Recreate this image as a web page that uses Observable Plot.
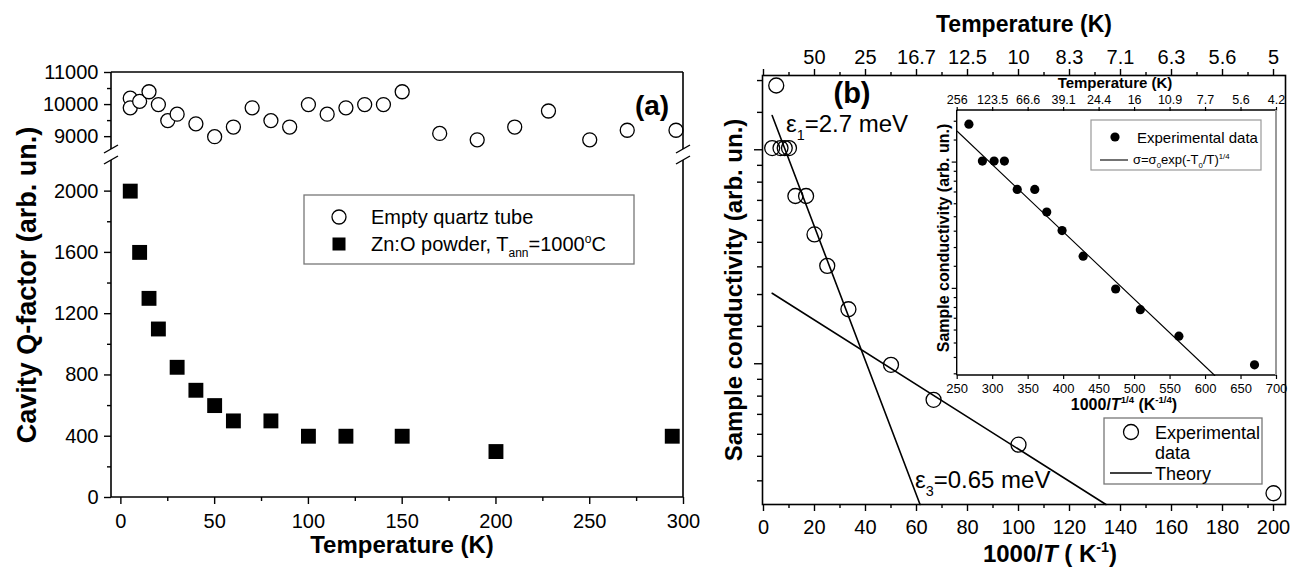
<!DOCTYPE html>
<html><head><meta charset="utf-8">
<script src="https://cdn.jsdelivr.net/npm/d3@7"></script>
<script src="https://cdn.jsdelivr.net/npm/@observablehq/plot@0.6"></script>
<style>
html,body{margin:0;padding:0;background:#fff;}
#wrap{position:relative;width:1290px;height:567px;overflow:hidden;background:#fff;}
#wrap svg{position:absolute;overflow:visible;}
</style></head><body><div id="wrap"></div>
<script>
// ---------- DATA ----------
// Panel (a)
const quartzT = [5, 5, 10, 15, 20, 25, 30, 40, 50, 60, 70, 80, 90, 100, 110, 120, 130, 140, 150, 170, 190, 210, 228, 250, 270, 296];
const quartzQ = [10200, 9900, 10100, 10400, 10000, 9500, 9700, 9400, 9000, 9300, 9900, 9500, 9300, 10000, 9700, 9900, 10000, 10000, 10400, 9100, 8900, 9300, 9800, 8900, 9200, 9200];
const znT = [5, 10, 15, 20, 30, 40, 50, 60, 80, 100, 120, 150, 200, 294];
const znQ = [2000, 1600, 1300, 1100, 850, 700, 600, 500, 500, 400, 400, 400, 300, 400];
const aXTicks = [0, 50, 100, 150, 200, 250, 300];
const aXMinor = [25, 75, 125, 175, 225, 275];
const aYTicks = [0, 400, 800, 1200, 1600, 2000, 9000, 10000, 11000];
const aYMinor = [200, 600, 1000, 1400, 1800, 9500, 10500];
const aYBreak = [2200, 8600];   // lower segment top, upper segment bottom
const aYTop = 11000;

// Panel (b) main: x = 1000/T, y = conductivity (arb. un., ln scale)
const bInvT  = [3.4, 5, 6.67, 8.33, 10, 12.5, 16.7, 20, 25, 33.3, 50, 66.7, 100, 200];
const bSigma = [2.74, 3.67, 2.74, 2.74, 2.74, 2.19, 2.19, 1.83, 1.58, 1.29, 0.995, 0.845, 0.685, 0.546];
const theory1X = [3.4, 61.4],  theory1S = [3.19, 0.518];
const theory2X = [3.4, 134.3], theory2S = [1.39, 0.518];
const bXTicks = [0, 20, 40, 60, 80, 100, 120, 140, 160, 180, 200];
const bXMinor = [10, 30, 50, 70, 90, 110, 130, 150, 170, 190];
const bTopTicks  = [0, 20, 40, 60, 80, 100, 120, 140, 160, 180, 200];
const bTopLabels = ["", "50", "25", "16.7", "12.5", "10", "8.3", "7.1", "6.3", "5.6", "5"];

// Inset: x = 1000/T^(1/4)
const iX     = [266.5, 285.5, 302, 316.5, 334.6, 359.3, 376.2, 397.8, 427.5, 473.3, 508.1, 562.4, 669];
const iSigma = [3.67, 2.74, 2.74, 2.74, 2.19, 2.19, 1.83, 1.58, 1.29, 0.995, 0.845, 0.685, 0.546];
const fitX = [250, 613], fitS = [3.47, 0.5016];
const iXTicks = [250, 300, 350, 400, 450, 500, 550, 600, 650, 700];
const iTopLabels = ["256", "123.5", "66.6", "39.1", "24.4", "16", "10.9", "7.7", "5.6", "4.2"];

// ---------- HELPERS ----------
const FONT = '"Liberation Sans", Arial, Helvetica, sans-serif';
const wrap = document.getElementById("wrap");
function place(svg, left, top) {
  svg.style.left = left + "px"; svg.style.top = top + "px";
  wrap.appendChild(svg);
}
function rich(g, x, y, parts, {size = 20, weight = "normal", anchor = "start", rotate = 0} = {}) {
  const t = g.append("text")
    .attr("font-size", size).attr("font-weight", weight)
    .attr("text-anchor", anchor).attr("fill", "#000").attr("stroke", "none")
    .attr("font-family", FONT);
  if (rotate) t.attr("transform", `translate(${x},${y}) rotate(${rotate})`);
  else t.attr("x", x).attr("y", y);
  let shift = 0;
  for (const p of parts) {
    const s = typeof p === "string" ? {t: p} : p;
    const ts = t.append("tspan").text(s.t);
    let target = 0, fs = size;
    if (s.sup) { target = -size * 0.42; fs = size * 0.6; }
    if (s.sub) { target = size * 0.32; fs = size * 0.6; }
    ts.attr("font-size", fs);
    if (target !== shift) { ts.attr("dy", target - shift); shift = target; }
    if (s.it) ts.attr("font-style", "italic");
  }
  return t;
}
function deco(left, top, draw) {
  return (index, scales, values, dims) => {
    const g = d3.create("svg:g").attr("transform", `translate(${-left},${-top})`);
    draw(g, scales, dims);
    return g.node();
  };
}
function line(g, x1, y1, x2, y2, stroke = "#000", w = 1.6) {
  g.append("line").attr("x1", x1).attr("y1", y1).attr("x2", x2).attr("y2", y2)
    .attr("stroke", stroke).attr("stroke-width", w);
}
function lnTicks(domain) {
  const major = [], minor = [];
  for (let n = -3; n <= 3; n++) {
    const a = Math.exp(n), b = Math.exp(n + 1);
    if (a >= domain[0] && a <= domain[1]) major.push(a);
    for (let i = 1; i <= 8; i++) {
      const v = a + i * (b - a) / 9;
      if (v >= domain[0] && v <= domain[1]) minor.push(v);
    }
  }
  return {major, minor};
}

// ---------- PANEL (a) : broken y axis ----------
// lower segment 0..2200 occupies 497..160 px, gap 11 px, upper 8600..11000 occupies 149..72 px
const GAP = 11 / 0.1532;            // gap expressed in lower-segment units
const UPK = 0.03208 / 0.1532;       // upper segment compression
const breakY = v => v <= aYBreak[0] ? v
  : v >= aYBreak[1] ? aYBreak[0] + GAP + (v - aYBreak[1]) * UPK
  : aYBreak[0] + GAP * (v - aYBreak[0]) / (aYBreak[1] - aYBreak[0]);

const quartz = quartzT.map((T, i) => ({T, Q: quartzQ[i]}));
const zn = znT.map((T, i) => ({T, Q: znQ[i]}));
const A = {left: 0, top: 0};
const plotA = Plot.plot({
  width: 700, height: 567,
  marginLeft: 111, marginRight: 17, marginTop: 72, marginBottom: 70,
  style: {background: "transparent", fontFamily: FONT, color: "#000", overflow: "visible"},
  x: {domain: [-5, 300]},
  y: {domain: [0, breakY(aYTop)], transform: breakY},
  marks: [
    Plot.axisX(aXTicks, {anchor: "bottom", tickSize: 7, tickPadding: 9, fontSize: 20, strokeWidth: 1.4, label: null, tickFormat: d => String(d)}),
    Plot.axisX(aXMinor, {anchor: "bottom", tickSize: 4, strokeWidth: 1.4, label: null, tickFormat: () => ""}),
    Plot.axisY(aYTicks, {anchor: "left", tickSize: 7, tickPadding: 6, fontSize: 20, strokeWidth: 1.4, label: null, tickFormat: d => String(d)}),
    Plot.axisY(aYMinor, {anchor: "left", tickSize: 4, strokeWidth: 1.4, label: null, tickFormat: () => ""}),
    Plot.dot(quartz, {x: "T", y: "Q", r: 7, fill: "#fff", stroke: "#000", strokeWidth: 1.3}),
    Plot.dot(zn, {x: "T", y: "Q", symbol: "square", r: 8.4, fill: "#000", stroke: "none"}),
    deco(A.left, A.top, (g, s, d) => {
      const x0 = d.marginLeft, x1 = d.width - d.marginRight;
      const yT = d.marginTop, yB = d.height - d.marginBottom;
      const py = v => {
        const a = s.y(breakY(v));
        return Number.isFinite(a) ? a : yB;
      };
      const ybU = py(aYBreak[1]), ybL = py(aYBreak[0]);
      line(g, x0, yT, x1, yT); line(g, x0, yB, x1, yB);
      for (const xe of [x0, x1]) {
        line(g, xe, yT, xe, ybU); line(g, xe, ybL, xe, yB);
        for (const yy of [ybU, ybL]) line(g, xe - 7, yy + 4, xe + 7, yy - 4, "#000", 1.4);
      }
      // legend
      g.append("rect").attr("x", 304).attr("y", 195).attr("width", 330).attr("height", 69)
        .attr("fill", "none").attr("stroke", "#777").attr("stroke-width", 1.3);
      g.append("circle").attr("cx", 339).attr("cy", 217).attr("r", 7).attr("fill", "#fff").attr("stroke", "#000").attr("stroke-width", 1.3);
      g.append("rect").attr("x", 332.5).attr("y", 237.5).attr("width", 13).attr("height", 13).attr("fill", "#000");
      rich(g, 371, 224, ["Empty quartz tube"], {size: 20});
      rich(g, 371, 251, ["Zn:O powder, T", {t: "ann", sub: true}, "=1000", {t: "o", sup: true}, "C"], {size: 20});
      rich(g, 652, 115, ["(a)"], {size: 28, weight: "bold", anchor: "middle"});
      rich(g, 402, 553, ["Temperature (K)"], {size: 24, weight: "bold", anchor: "middle"});
      rich(g, 36, 285, ["Cavity Q-factor (arb. un.)"], {size: 27, weight: "bold", anchor: "middle", rotate: -90});
    })
  ]
});
place(plotA, A.left, A.top);

// ---------- PANEL (b) ----------
const B = {left: 700, top: 0};
const bDomainY = [0.518, 3.846];
const bT = lnTicks(bDomainY);
const mainPts = bInvT.map((x, i) => ({x, s: bSigma[i]}));
const th1 = theory1X.map((x, i) => ({x, s: theory1S[i]}));
const th2 = theory2X.map((x, i) => ({x, s: theory2S[i]}));
const topMap = new Map(bTopTicks.map((d, i) => [d, bTopLabels[i]]));
const plotB = Plot.plot({
  width: 590, height: 567,
  marginLeft: 62, marginRight: 5, marginTop: 75, marginBottom: 63,
  style: {background: "transparent", fontFamily: FONT, color: "#000", overflow: "visible"},
  x: {domain: [-0.39, 204.7]},
  y: {type: "log", base: Math.E, domain: bDomainY},
  marks: [
    Plot.frame({stroke: "#000", strokeWidth: 1.6}),
    Plot.axisX(bXTicks, {anchor: "bottom", tickSize: 7, tickPadding: 8, fontSize: 20, strokeWidth: 1.4, label: null, tickFormat: d => String(d)}),
    Plot.axisX(bXMinor, {anchor: "bottom", tickSize: 4, strokeWidth: 1.4, label: null, tickFormat: () => ""}),
    Plot.axisX(bTopTicks, {anchor: "top", tickSize: 7, tickPadding: 5, fontSize: 20, strokeWidth: 1.4, label: null, tickFormat: d => topMap.get(d)}),
    Plot.axisX(bXMinor, {anchor: "top", tickSize: 4, strokeWidth: 1.4, label: null, tickFormat: () => ""}),
    Plot.axisY(bT.major, {anchor: "left", tickSize: 8, strokeWidth: 1.4, label: null, tickFormat: () => ""}),
    Plot.axisY(bT.minor, {anchor: "left", tickSize: 5, strokeWidth: 1.4, label: null, tickFormat: () => ""}),
    Plot.line(th1, {x: "x", y: "s", stroke: "#000", strokeWidth: 1.6}),
    Plot.line(th2, {x: "x", y: "s", stroke: "#000", strokeWidth: 1.6}),
    Plot.dot(mainPts, {x: "x", y: "s", r: 7.5, fill: "none", stroke: "#000", strokeWidth: 1.3}),
    deco(B.left, B.top, (g) => {
      rich(g, 852, 103, ["(b)"], {size: 29, weight: "bold", anchor: "middle"});
      rich(g, 786, 132, ["ε", {t: "1", sub: true}, "=2.7 meV"], {size: 24});
      rich(g, 915, 488, ["ε", {t: "3", sub: true}, "=0.65 meV"], {size: 24});
      rich(g, 1024, 32, ["Temperature (K)"], {size: 23, weight: "bold", anchor: "middle"});
      rich(g, 1050, 562, ["1000/", {t: "T", it: true}, " ( K", {t: "-1", sup: true}, ")"], {size: 24, weight: "bold", anchor: "middle"});
      rich(g, 742, 290, ["Sample conductivity (arb. un.)"], {size: 24, weight: "bold", anchor: "middle", rotate: -90});
      // legend
      g.append("rect").attr("x", 1104).attr("y", 418).attr("width", 158).attr("height", 66)
        .attr("fill", "#fff").attr("stroke", "#777").attr("stroke-width", 1.3);
      g.append("circle").attr("cx", 1131).attr("cy", 432).attr("r", 7.5).attr("fill", "#fff").attr("stroke", "#000").attr("stroke-width", 1.3);
      rich(g, 1155, 438.5, ["Experimental"], {size: 18});
      rich(g, 1155, 459, ["data"], {size: 18});
      line(g, 1110, 473, 1152, 473, "#000", 1.6);
      rich(g, 1155, 479.5, ["Theory"], {size: 18});
    })
  ]
});
place(plotB, B.left, B.top);

// ---------- INSET ----------
const I = {left: 900, top: 75};
const iDomainY = [0.5016, 4.09];
const iT = lnTicks(iDomainY);
const insetPts = iX.map((x, i) => ({x, s: iSigma[i]}));
const fit = fitX.map((x, i) => ({x, s: fitS[i]}));
const iTopMap = new Map(iXTicks.map((d, i) => [d, iTopLabels[i]]));
const plotI = Plot.plot({
  width: 390, height: 340,
  marginLeft: 56.7, marginRight: 14, marginTop: 35, marginBottom: 40,
  style: {background: "transparent", fontFamily: FONT, color: "#000", overflow: "visible"},
  x: {domain: [250, 700]},
  y: {type: "log", base: Math.E, domain: iDomainY},
  marks: [
    Plot.axisX(iXTicks, {anchor: "bottom", tickSize: 4, tickPadding: 4, fontSize: 13, strokeWidth: 1.2, label: null, tickFormat: d => String(d)}),
    Plot.axisX(iXTicks, {anchor: "top", tickSize: 4, tickPadding: 3, fontSize: 12.5, strokeWidth: 1.2, label: null, tickFormat: d => iTopMap.get(d)}),
    Plot.axisY(iT.major, {anchor: "left", tickSize: 5, strokeWidth: 1.2, label: null, tickFormat: () => ""}),
    Plot.axisY(iT.minor, {anchor: "left", tickSize: 3, strokeWidth: 1.2, label: null, tickFormat: () => ""}),
    Plot.line(fit, {x: "x", y: "s", stroke: "#000", strokeWidth: 1.1}),
    Plot.dot(insetPts, {x: "x", y: "s", r: 4.6, fill: "#000", stroke: "none"}),
    deco(I.left, I.top, (g, s, d) => {
      const x0 = I.left + d.marginLeft, x1 = I.left + d.width - d.marginRight;
      const y0 = I.top + d.marginTop, y1 = I.top + d.height - d.marginBottom;
      line(g, x0, y0, x1, y0, "#000", 1.4);
      line(g, x0, y1, x1, y1, "#000", 1.4);
      line(g, x0, y0, x0, y1, "#000", 1.4);
      line(g, x1, y0, x1, y1, "#999", 2);
      rich(g, 1115, 88, ["Temperature (K)"], {size: 15, weight: "bold", anchor: "middle"});
      rich(g, 1124, 410, ["1000/", {t: "T", it: true}, {t: "1/4", sup: true}, " (K", {t: "-1/4", sup: true}, ")"], {size: 16, weight: "bold", anchor: "middle"});
      rich(g, 949, 238, ["Sample conductivity (arb. un.)"], {size: 16, weight: "bold", anchor: "middle", rotate: -90});
      // inset legend
      g.append("rect").attr("x", 1091).attr("y", 120).attr("width", 170).attr("height", 50)
        .attr("fill", "#fff").attr("stroke", "#999").attr("stroke-width", 1.2);
      g.append("circle").attr("cx", 1115).attr("cy", 137).attr("r", 4.6).attr("fill", "#000");
      rich(g, 1137, 142.5, ["Experimental data"], {size: 15});
      line(g, 1100, 160, 1128, 160, "#000", 1.1);
      rich(g, 1133, 164, ["σ=σ", {t: "0", sub: true}, "exp(-T", {t: "0", sub: true}, "/T)", {t: "1/4", sup: true}], {size: 13});
    })
  ]
});
place(plotI, I.left, I.top);
</script></body></html>
